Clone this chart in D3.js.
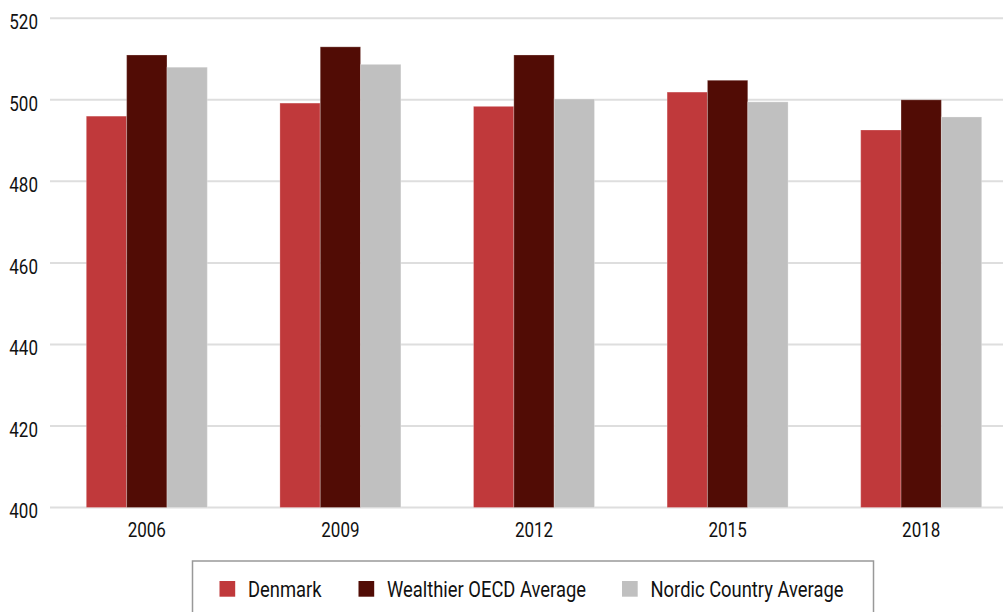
<!DOCTYPE html>
<html>
<head>
<meta charset="utf-8">
<script src="https://cdn.jsdelivr.net/npm/d3@7"></script>
<style>
  body { margin: 0; background: #fff; }
  text { font-family: Roboto, "Noto Sans", sans-serif; fill: #111; }
</style>
</head>
<body>
<script>
// canvas size
var width = 1003;
var height = 612;

// data
var years = ["2006", "2009", "2012", "2015", "2018"];
var seriesNames = ["Denmark", "Wealthier OECD Average", "Nordic Country Average"];
var denmark = [496, 499.2, 498.4, 501.9, 492.6];
var oecd = [511, 513, 511, 504.8, 500];
var nordic = [508, 508.7, 500.2, 499.5, 495.8];
var colors = ["#c0393b", "#510c05", "#c0c0c0"];
var yTicks = [400, 420, 440, 460, 480, 500, 520];

var values = [denmark, oecd, nordic];

// no condensed font installed, so squeeze the text a bit
function squeeze(sel, condense) {
  sel.each(function () {
    var w = this.getComputedTextLength();
    d3.select(this)
      .attr("textLength", w * condense)
      .attr("lengthAdjust", "spacingAndGlyphs");
  });
}

var svg = d3.select("body")
  .append("svg")
  .attr("width", width)
  .attr("height", height);

// scales
var x0 = d3.scaleBand()
  .domain(years)
  .range([50, 1018])
  .paddingInner(0.375)
  .paddingOuter(0.1875);

var x1 = d3.scaleBand()
  .domain(d3.range(seriesNames.length))
  .range([0, x0.bandwidth()]);

var y = d3.scaleLinear()
  .domain([400, 520])
  .range([507.5, 18.3]);

// grid lines
svg.append("g")
  .selectAll("line")
  .data(yTicks)
  .enter()
  .append("line")
  .attr("x1", 50)
  .attr("x2", 1018)
  .attr("y1", d => y(d))
  .attr("y2", d => y(d))
  .attr("stroke", "#dedede")
  .attr("stroke-width", 2);

// y labels
svg.append("g")
  .selectAll("text")
  .data(yTicks)
  .enter()
  .append("text")
  .attr("x", 38)
  .attr("y", d => y(d))
  .attr("dy", "0.52em")
  .attr("text-anchor", "end")
  .style("font-size", "21px")
  .text(d => d)
  .call(squeeze, 0.81);

// bars
var groups = svg.append("g")
  .selectAll("g")
  .data(years)
  .enter()
  .append("g")
  .attr("transform", d => `translate(${x0(d)},0)`);

groups.selectAll("rect")
  .data((d, i) => values.map((s, k) => ({k: k, v: s[i]})))
  .enter()
  .append("rect")
  .attr("x", d => x1(d.k))
  .attr("y", d => y(d.v))
  .attr("width", x1.bandwidth())
  .attr("height", d => y(400) - y(d.v))
  .attr("fill", d => colors[d.k])
  .attr("stroke", "#ffffff")
  .attr("stroke-opacity", 0.25)
  .attr("stroke-width", 1);

// x labels
svg.append("g")
  .selectAll("text")
  .data(years)
  .enter()
  .append("text")
  .attr("x", d => x0(d) + x0.bandwidth() / 2)
  .attr("y", y(400) + 29)
  .attr("text-anchor", "middle")
  .style("font-size", "21px")
  .text(d => d)
  .call(squeeze, 0.81);

// legend
var legend = svg.append("g");
legend.append("rect")
  .attr("x", 192.5)
  .attr("y", 561)
  .attr("width", 681)
  .attr("height", 70)
  .attr("fill", "none")
  .attr("stroke", "#999")
  .attr("stroke-width", 1.5);

var legendX = [219.5, 358.5, 622];
var items = legend.selectAll(".item")
  .data(seriesNames)
  .enter()
  .append("g")
  .attr("class", "item")
  .attr("transform", (d, i) => `translate(${legendX[i]},581)`);

items.append("rect")
  .attr("width", 15.7)
  .attr("height", 15.7)
  .attr("fill", (d, i) => colors[i]);

items.append("text")
  .attr("x", 28.5)
  .attr("y", 15.7)
  .style("font-size", "22px")
  .text(d => d)
  .call(squeeze, 0.835);
</script>
</body>
</html>
